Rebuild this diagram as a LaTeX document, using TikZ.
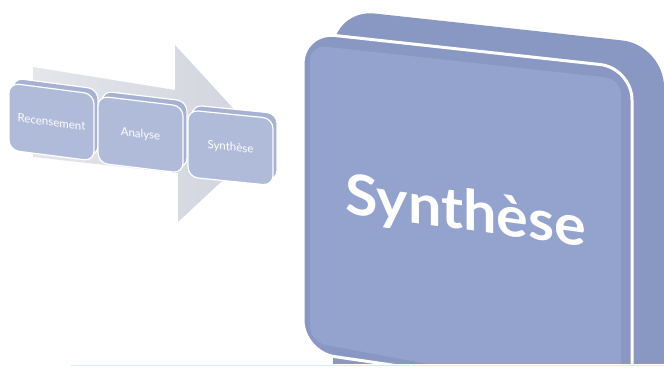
\documentclass[tikz,border=0pt]{standalone}
\usepackage{fontspec}
\setmainfont{Lato}

\definecolor{arrowgray}{HTML}{D0D3DC}
\definecolor{arrowlight}{HTML}{E4E6EB}
\definecolor{stepface}{HTML}{B0BAD9}
\definecolor{stepback}{HTML}{A6B1D3}
\definecolor{bigface}{HTML}{93A3CD}
\definecolor{bigedge}{HTML}{8898C3}
\definecolor{rulecyan}{HTML}{D6EEF3}

\tikzset{
  stepbox/.style={fill=stepface, draw=white, line width=1.2pt, rounded corners=10pt},
  steplayer/.style={fill=stepback, draw=white, line width=1.2pt, rounded corners=10pt},
  steplabel/.style={text=white, inner sep=0pt, font=\fontsize{11.5}{12}\selectfont},
}

\begin{document}
\begin{tikzpicture}[x=1pt,y=-1pt]
    \useasboundingbox (0,0) rectangle (664,367);
    \def\sw{85} % width of a step box
    \def\sh{67} % height of a step box

    % big arrow behind the steps
    \shade[left color=arrowlight, right color=arrowgray]
        (33,67) -- (175,90) -- (175,45) -- (264,142) -- (178,222) -- (178,173) -- (33,157) -- cycle;

    % the three steps, each with a layer behind it
    \foreach \x/\y/\s/\txt [count=\i] in {9/83/0.13/Recensement, 98/96/0.12/Analyse, 188/110/0.10/Synthèse}
    {
    \filldraw [steplayer] (\x+4,\y-5) -- ++(\sw,\sw*\s) -- ++(0,\sh) -- ++(-\sw,-\sw*\s) -- cycle;
    \filldraw [stepbox] (\x,\y) -- ++(\sw,\sw*\s) -- ++(0,\sh) -- ++(-\sw,-\sw*\s) -- cycle;
    \node [steplabel, yslant=-\s] (step\i) at (\x+\sw/2, \y+\sh/2+\sw/2*\s) {\txt};
    }

    % the big block, cut off at the bottom
    \begin{scope}
    \clip (0,0) rectangle (664,363);
    \fill [bigedge, rounded corners=42pt] (333,9) -- (664,45) -- (664,420) -- (333,420) -- cycle;
    \filldraw [fill=bigedge, draw=white, line width=3pt, rounded corners=32pt]
        (303,32) -- (632,68) -- (632,400) -- (303,352) -- cycle;
    \fill [bigface, rounded corners=16pt] (310,45) -- (621,79) -- (621,400) -- (310,342) -- cycle;
    \end{scope}
    \node [anchor=base, text=white, yslant=-0.137, xscale=1.06, inner sep=0pt,
           font=\bfseries\fontsize{56}{56}\selectfont] (bigtitle) at (466,230) {Synthèse};

    % thin line along the bottom
    \draw [rulecyan, line width=1.5pt] (71,365.5) -- (410,365.5);
    \draw [rulecyan, line width=1.5pt] (412,365.5) -- (664,365.5);
\end{tikzpicture}
\end{document}
